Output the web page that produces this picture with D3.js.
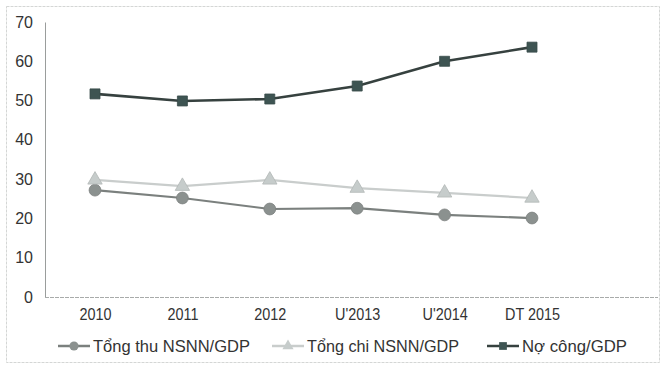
<!DOCTYPE html>
<html><head><meta charset="utf-8">
<script src="https://cdn.jsdelivr.net/npm/d3@7"></script>
<style>body{margin:0;background:#fff}svg{display:block}text{font-family:"Liberation Sans",Arial,sans-serif;}</style>
</head><body>
<script>
const categories = ["2010","2011","2012","U'2013","U'2014","DT 2015"];
const thu = [27.2, 25.2, 22.4, 22.6, 20.9, 20.1];
const chi = [29.8, 28.2, 29.8, 27.7, 26.5, 25.2];
const no = [51.7, 49.9, 50.4, 53.7, 60.0, 63.6];
const seriesNames = ["Tổng thu NSNN/GDP","Tổng chi NSNN/GDP","Nợ công/GDP"];
const yTicks = [0,10,20,30,40,50,60,70];

const W = 667, H = 367;
const svg = d3.select("body").append("svg").attr("width", W).attr("height", H);
svg.append("rect").attr("x",6.5).attr("y",6.5).attr("width",653).attr("height",356)
  .attr("fill","#fff").attr("stroke","#d4d6d5").attr("stroke-dasharray","3,1");

const x = d3.scalePoint().domain(categories).range([95, 532]);
const y = d3.scaleLinear().domain([0,70]).range([297, 22]);

// y axis
const ya = svg.append("g").attr("transform","translate(45,0)")
  .call(d3.axisLeft(y).tickValues(yTicks).tickSize(0).tickPadding(12));
ya.select(".domain").attr("stroke","#9a9d9c");
ya.selectAll("text").attr("font-size",16).attr("fill","#333");

// x axis
const xa = svg.append("g").attr("transform","translate(0,297)")
  .call(d3.axisBottom(x).tickSize(0).tickPadding(12));
xa.select(".domain").remove();
xa.selectAll("text").attr("font-size",16).attr("fill","#333")
  .attr("textLength", function(){ return this.getComputedTextLength()*0.9; })
  .attr("lengthAdjust","spacingAndGlyphs");
svg.append("line").attr("x1",45).attr("x2",658).attr("y1",297.5).attr("y2",297.5)
  .attr("stroke","#a8abaa").attr("stroke-dasharray","4,1");

const styles = [
  {data: thu, line:"#7b807e", fill:"#8b918f", shape: d3.symbolCircle, size: 110, w:2.2},
  {data: chi, line:"#c9cdcc", fill:"#c6cccb", shape: d3.symbolTriangle, size: 90, w:2.2},
  {data: no, line:"#36413f", fill:"#3e5452", shape: d3.symbolSquare, size: 100, w:2.6}
];
const line = d3.line().x((d,i)=>x(categories[i])).y(d=>y(d));
styles.forEach(s=>{
  svg.append("path").datum(s.data).attr("d", line).attr("fill","none")
    .attr("stroke", s.line).attr("stroke-width", s.w);
  svg.selectAll(null).data(s.data).enter().append("path")
    .attr("d", d3.symbol().type(s.shape).size(s.size))
    .attr("transform",(d,i)=>`translate(${x(categories[i])},${y(d)})`)
    .attr("fill", s.fill).attr("stroke", d3.color(s.fill).darker(0.3)).attr("stroke-width",0.8);
});

// legend
const legX = [58, 272, 487];
const legLen = [157, 152, 105];
const lg = svg.append("g");
styles.forEach((s,i)=>{
  const g = lg.append("g").attr("transform",`translate(${legX[i]},346)`);
  g.append("line").attr("x1",0).attr("x2",32).attr("stroke",s.line).attr("stroke-width",2.5);
  g.append("path").attr("d", d3.symbol().type(s.shape).size(s.size*0.6))
    .attr("transform","translate(16,0)").attr("fill",s.fill);
  g.append("text").attr("x",35).attr("y",6).attr("font-size",17).attr("fill","#333")
    .attr("textLength", legLen[i]).attr("lengthAdjust","spacingAndGlyphs").text(seriesNames[i]);
});
</script>
</body></html>
